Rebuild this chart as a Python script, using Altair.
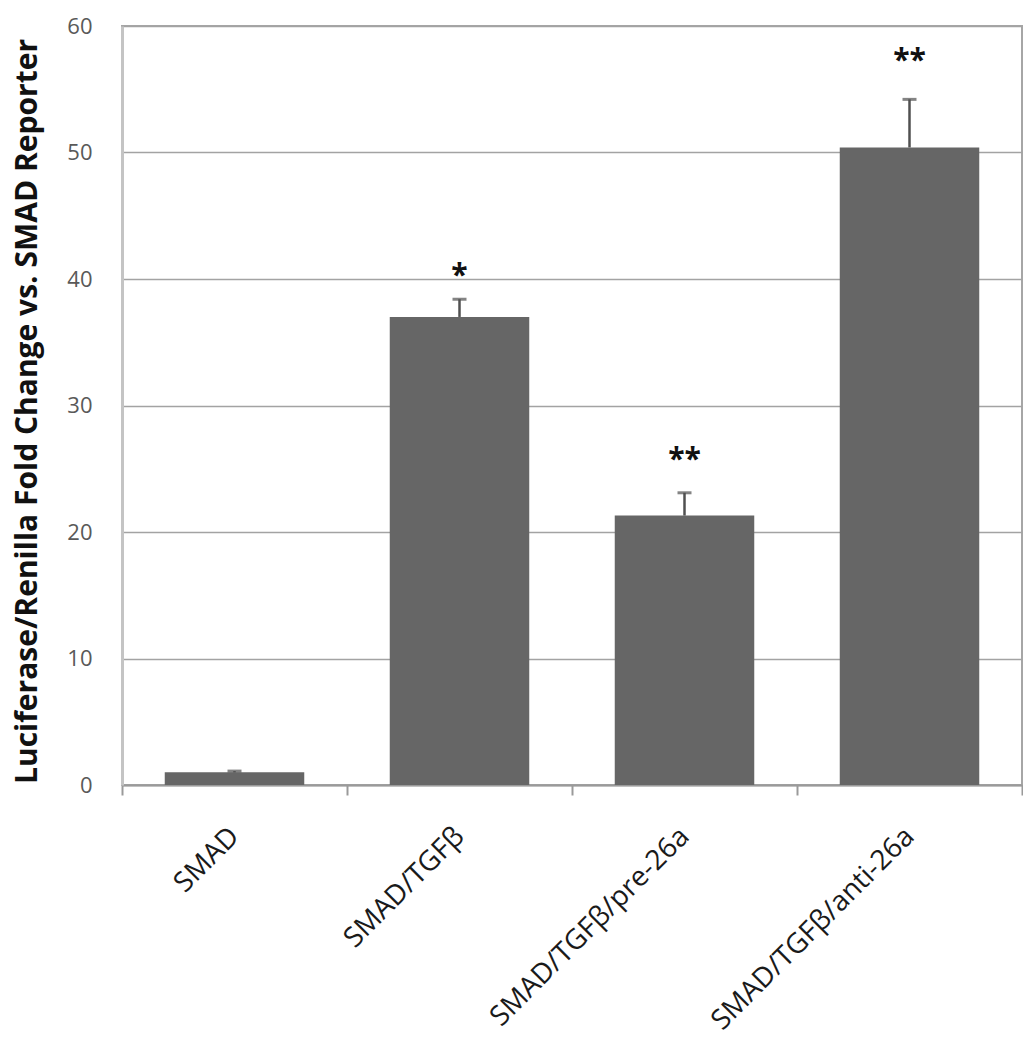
import altair as alt
import pandas as pd

categories = ["SMAD", "SMAD/TGFβ", "SMAD/TGFβ/pre-26a", "SMAD/TGFβ/anti-26a"]
values = [1.0, 37.0, 21.3, 50.4]
err_upper = [1.1, 38.4, 23.1, 54.2]
stars = ["", "*", "**", "**"]
star_level = [None, 40.7, 26.2, 57.7]
y_ticks = [0, 10, 20, 30, 40, 50, 60]

df = pd.DataFrame({
    "cat": categories,
    "value": values,
    "upper": err_upper,
    "star": stars,
    "star_y": star_level,
})

FONT = "Open Sans"

x_scale = alt.Scale(paddingInner=0, paddingOuter=0)

x_enc = alt.X(
    "cat:N",
    sort=categories,
    scale=x_scale,
    axis=alt.Axis(
        title=None,
        labelAngle=-45,
        labelAlign="right",
        labelBaseline="middle",
        labelFont=FONT,
        labelFontSize=28,
        labelColor="#1a1a1a",
        labelPadding=37,
        labelLimit=0,
        tickBand="extent",
        tickSize=10,
        tickColor="#9a9a9a",
        tickWidth=2,
        domainColor="#9a9a9a",
        domainWidth=2,
        grid=False,
        labelOverlap=False,
    ),
)

y_scale = alt.Scale(domain=[0, 60], nice=False)

bars = alt.Chart(df).mark_bar(color="#666666", width=alt.RelativeBandSize(0.62)).encode(
    x=x_enc,
    y=alt.Y(
        "value:Q",
        scale=y_scale,
        axis=alt.Axis(
            title="Luciferase/Renilla Fold Change vs. SMAD Reporter",
            titleFont=FONT,
            titleFontSize=30,
            titleFontWeight="bold",
            titleColor="#111111",
            titleAngle=270,
            titleX=-95,
            titleY=385,
            titleAlign="center",
            titleBaseline="middle",
            values=y_ticks,
            labelFont=FONT,
            labelFontSize=22,
            labelColor="#595959",
            labelPadding=30,
            ticks=False,
            tickSize=0,
            domainColor="#c4c4c4",
            domainWidth=3,
            gridColor="#a3a3a3",
            gridWidth=1.5,
        ),
    ),
)

err_rule = alt.Chart(df).mark_rule(color="#505050", strokeWidth=2.5).encode(
    x=alt.X("cat:N", sort=categories, scale=x_scale),
    y=alt.Y("value:Q", scale=y_scale),
    y2="upper:Q",
)

err_cap = alt.Chart(df).mark_tick(color="#505050", thickness=3, size=14, orient="horizontal").encode(
    x=alt.X("cat:N", sort=categories, scale=x_scale),
    y=alt.Y("upper:Q", scale=y_scale),
)

star_text = alt.Chart(df).transform_filter("datum.star != ''").mark_text(
    font=FONT, fontSize=30, fontWeight="bold", color="#111111", baseline="middle", dy=6
).encode(
    x=alt.X("cat:N", sort=categories, scale=x_scale),
    y=alt.Y("star_y:Q", scale=y_scale),
    text="star:N",
)

chart = alt.layer(bars, err_rule, err_cap, star_text).properties(
    width=900,
    height=759,
    autosize=alt.AutoSizeParams(type="none"),
    padding={"left": 114, "top": 18, "right": 1, "bottom": 257},
    background="white",
).configure_view(
    stroke="#a6a6a6",
    strokeWidth=2,
)

chart.save("out.html", embed_options={"renderer": "svg", "actions": False})
